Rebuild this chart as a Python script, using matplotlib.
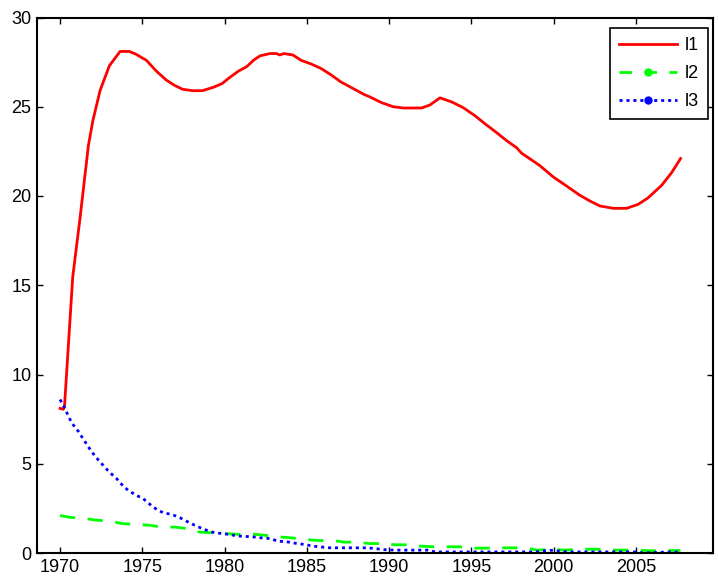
import matplotlib
matplotlib.use("Agg")
import matplotlib.pyplot as plt
from matplotlib.lines import Line2D

plt.rcParams['font.family'] = ['Liberation Sans', 'DejaVu Sans']

# l1 (red solid)
l1_year = [1970.0, 1970.2, 1970.27, 1970.77, 1971.22, 1971.72, 1971.99, 1972.43, 1973.0,
           1973.65, 1974.2, 1974.6, 1975.25, 1975.85, 1976.45, 1976.95, 1977.45, 1978.05,
           1978.65, 1979.35, 1979.85, 1980.25, 1980.85, 1981.35, 1981.75, 1982.15, 1982.75,
           1983.15, 1983.35, 1983.6, 1984.15, 1984.65, 1985.25, 1985.85, 1986.45, 1987.05,
           1987.65, 1988.45, 1988.83, 1989.54, 1990.25, 1990.86, 1991.97, 1992.48, 1993.09,
           1993.8, 1994.5, 1995.21, 1995.82, 1996.53, 1997.14, 1997.75, 1998.05, 1999.16,
           1999.97, 2000.78, 2001.59, 2002.2, 2002.81, 2003.62, 2004.43, 2005.13, 2005.74,
           2006.56, 2007.16, 2007.71]
l1_val = [8.1, 8.05, 8.2, 15.45, 18.8, 22.8, 24.2, 25.9, 27.3,
          28.1, 28.1, 27.95, 27.6, 27.0, 26.5, 26.2, 25.98, 25.9,
          25.9, 26.1, 26.3, 26.6, 27.0, 27.25, 27.6, 27.85, 27.98,
          27.98, 27.9, 27.98, 27.9, 27.6, 27.4, 27.15, 26.8, 26.4,
          26.1, 25.7, 25.55, 25.23, 25.0, 24.93, 24.93, 25.1, 25.5,
          25.27, 24.95, 24.5, 24.05, 23.55, 23.1, 22.7, 22.4, 21.7,
          21.07, 20.56, 20.04, 19.72, 19.44, 19.31, 19.31, 19.53, 19.9,
          20.6, 21.3, 22.1]

# l2 (green dashed)
l2_year = [1970.0, 1970.6, 1971.6, 1972.2, 1973.1, 1973.75, 1974.66, 1975.4, 1976.2,
           1977.0, 1977.8, 1978.5, 1979.3, 1980.0, 1980.9, 1981.65, 1982.55, 1983.2,
           1984.1, 1984.8, 1985.7, 1986.6, 1987.25, 1987.96, 1988.8, 1989.5, 1990.4,
           1991.1, 1991.95, 1992.7, 1993.6, 1994.3, 1995.1, 1995.8, 1996.75, 1997.46,
           1998.3, 1999.0, 1999.9, 2000.64, 2001.56, 2002.7, 2003.6, 2004.3, 2005.24,
           2005.85, 2006.8, 2007.7]
l2_val = [2.1, 2.0, 1.92, 1.84, 1.78, 1.65, 1.6, 1.56, 1.45,
          1.45, 1.36, 1.17, 1.13, 1.09, 1.04, 1.07, 0.98, 0.91,
          0.85, 0.76, 0.7, 0.7, 0.61, 0.61, 0.53, 0.53, 0.46,
          0.46, 0.38, 0.35, 0.35, 0.35, 0.27, 0.27, 0.29, 0.29,
          0.29, 0.16, 0.21, 0.16, 0.21, 0.21, 0.16, 0.16, 0.16,
          0.12, 0.14, 0.14]

# l3 (blue dotted)
l3_year = [1970.0, 1970.3, 1970.7, 1971.1, 1971.4, 1971.9, 1972.3, 1972.7, 1973.0,
           1973.45, 1973.75, 1974.15, 1974.66, 1975.06, 1975.47, 1975.87, 1976.28, 1976.8,
           1977.3, 1977.8, 1978.3, 1978.9, 1979.4, 1980.0, 1980.5, 1981.0, 1981.65,
           1982.2, 1982.75, 1983.26, 1983.77, 1984.4, 1984.85, 1985.4, 1986.4, 1988.7,
           1989.3, 1989.9, 1990.5, 1992.35, 1992.8, 1998.9, 1999.7, 2000.2, 2000.8,
           2004.2, 2005.0, 2005.45, 2006.2, 2007.0, 2007.75]
l3_val = [8.6, 8.08, 7.3, 6.83, 6.4, 5.7, 5.24, 4.83, 4.53,
          4.16, 3.84, 3.5, 3.22, 3.04, 2.72, 2.44, 2.25, 2.16,
          1.97, 1.73, 1.5, 1.28, 1.13, 1.08, 1.0, 0.94, 0.91,
          0.85, 0.81, 0.66, 0.63, 0.53, 0.48, 0.38, 0.29, 0.29,
          0.23, 0.17, 0.16, 0.16, 0.06, 0.06, 0.16, 0.12, 0.06,
          0.06, 0.06, 0.0, 0.03, 0.06, 0.06]

xticks = [1970, 1975, 1980, 1985, 1990, 1995, 2000, 2005]
yticks = [0, 5, 10, 15, 20, 25, 30]

fig = plt.figure(figsize=(7.18, 5.81), dpi=100)
ax = fig.add_axes([37 / 718, 28 / 581, 675.5 / 718, 535.5 / 581])

ax.plot(l1_year, l1_val, color='#ff0000', lw=2.0, solid_joinstyle='round')
ax.plot(l2_year, l2_val, color='#00ff00', lw=2.0, ls=(0, (5.5, 4.5)))
ax.plot(l3_year, l3_val, color='#0000ff', lw=2.0, ls=(0, (1.1, 1.4)))

ax.set_xlim(1968.6, 2009.65)
ax.set_ylim(0, 30)
ax.set_xticks(xticks)
ax.set_yticks(yticks)
ax.tick_params(direction='in', length=4.5, width=1.0, labelsize=13,
               top=True, right=True, pad=4)
for s in ax.spines.values():
    s.set_linewidth(1.5)

handles = [
    Line2D([], [], color='#ff0000', lw=2.0),
    Line2D([], [], color='#00ff00', lw=2.0, ls=(0, (4.5, 4.5)), marker='o', ms=5),
    Line2D([], [], color='#0000ff', lw=2.0, ls=(0, (1.1, 1.4)), marker='o', ms=5),
]
leg = ax.legend(handles, ['l1', 'l2', 'l3'], loc='upper right',
                bbox_to_anchor=(0.9933, 0.980), borderaxespad=0, fontsize=13,
                numpoints=1, handlelength=3.2, handletextpad=0.45,
                fancybox=False, framealpha=1,
                labelspacing=0.6, borderpad=0.5)
leg.get_frame().set_edgecolor('black')
leg.get_frame().set_linewidth(1.2)

fig.savefig('out.png', dpi=100)
